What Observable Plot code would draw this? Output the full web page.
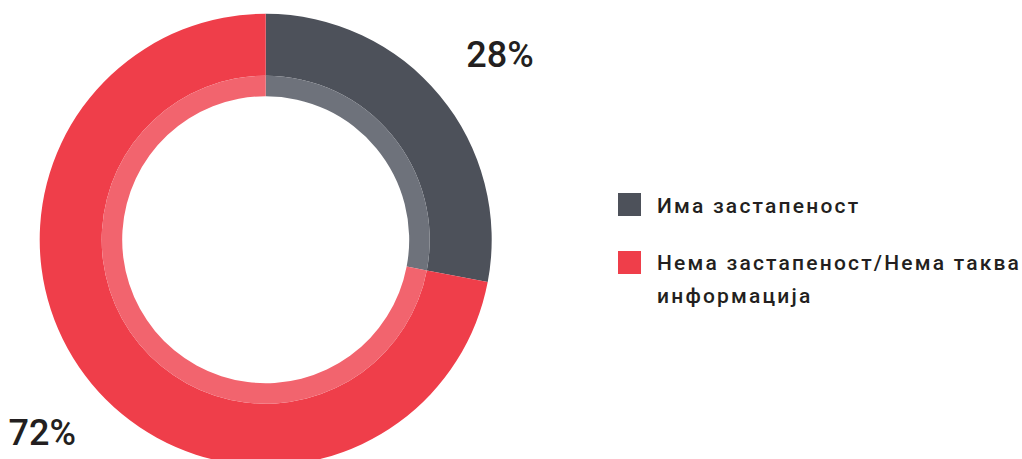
<!DOCTYPE html>
<html>
<head>
<meta charset="utf-8">
<script src="https://cdn.jsdelivr.net/npm/d3@7"></script>
<script src="https://cdn.jsdelivr.net/npm/@observablehq/plot@0.6"></script>
<style>
  html, body { margin: 0; padding: 0; background: #fff; }
  #wrap { position: relative; width: 1022px; height: 459px; overflow: hidden; }
  #legend { position: absolute; left: 618px; top: 189.6px; font-family: Roboto, sans-serif; font-weight: 500; font-size: 21px; line-height: 33px; color: #231f20; letter-spacing: 2.2px; }
  .item { display: flex; align-items: flex-start; margin-bottom: 24.4px; }
  .sw { width: 23px; height: 23px; margin-top: 3.7px; margin-right: 16px; flex: none; }
  .lab { width: 372px; }
</style>
</head>
<body>
<div id="wrap"></div>
<script>
const categories = ["Има застапеност", "Нема застапеност/Нема таква информација"];
const values = [28, 72];
const labels = ["28%", "72%"];
const colors = ["#4d515a", "#ef3e4a"];
const innerColors = ["#6e727b", "#f2646e"];

const data = categories.map((c, i) => ({category: c, value: values[i], label: labels[i]}));

const cx = 265.7, cy = 239.7;
const rOuter = 226, rMid = 164, rInner = 143.5, rLabel = 297;

function donut(index, scales, vals, dims) {
  const g = d3.create("svg:g").attr("transform", `translate(${cx},${cy})`);
  const arcs = d3.pie().sort(null).value(d => d.value)(data);
  const outer = d3.arc().innerRadius(rMid).outerRadius(rOuter);
  const inner = d3.arc().innerRadius(rInner).outerRadius(rMid);
  const lab = d3.arc().innerRadius(rLabel).outerRadius(rLabel);
  g.selectAll("path.o").data(arcs).join("path")
    .attr("d", outer).attr("fill", (d, i) => colors[i]);
  g.selectAll("path.i").data(arcs).join("path")
    .attr("d", inner).attr("fill", (d, i) => innerColors[i]);
  g.selectAll("text").data(arcs).join("text")
    .attr("transform", d => `translate(${lab.centroid(d)})`)
    .attr("text-anchor", "middle")
    .attr("dx", "0.15em")
    .attr("dy", "0.45em")
    .attr("font-family", "Roboto, sans-serif")
    .attr("font-weight", 500)
    .attr("font-size", 36)
    .attr("fill", "#231f20")
    .text(d => d.data.label);
  return g.node();
}

const chart = Plot.plot({
  width: 1022,
  height: 459,
  margin: 0,
  style: {background: "transparent"},
  marks: [donut]
});

const wrap = document.getElementById("wrap");
wrap.appendChild(chart);

const legend = document.createElement("div");
legend.id = "legend";
categories.forEach((c, i) => {
  const item = document.createElement("div");
  item.className = "item";
  const sw = document.createElement("div");
  sw.className = "sw";
  sw.style.background = colors[i];
  const lb = document.createElement("div");
  lb.className = "lab";
  lb.textContent = c;
  item.appendChild(sw);
  item.appendChild(lb);
  legend.appendChild(item);
});
wrap.appendChild(legend);
</script>
</body>
</html>
